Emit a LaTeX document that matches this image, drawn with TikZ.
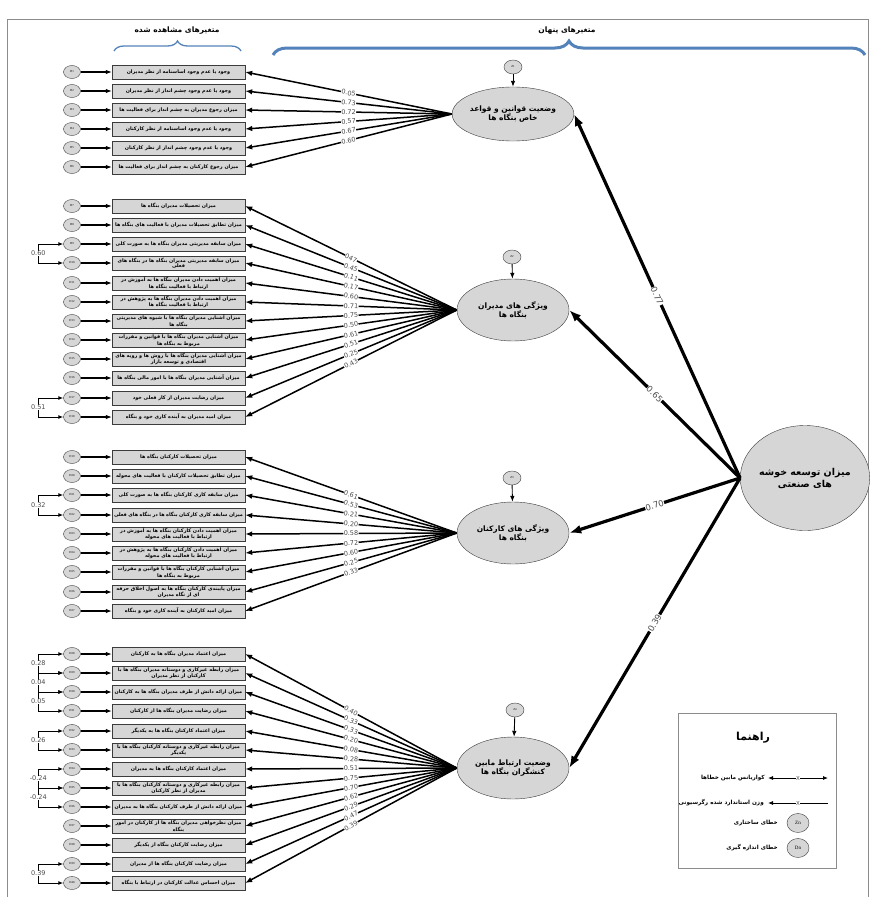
\documentclass[tikz,border=0pt]{standalone}
\usepackage{fontspec}
\setmainfont{DejaVu Sans}
\newfontfamily\farsi[Script=Arabic]{DejaVu Sans}
\newfontfamily\romn{Liberation Serif}
\TeXXeTstate=1
\usetikzlibrary{arrows.meta,positioning,shapes.geometric,decorations.pathreplacing}
\definecolor{semgray}{RGB}{214,214,214}
\definecolor{semedge}{RGB}{60,60,60}
\definecolor{semlab}{RGB}{75,75,75}
\definecolor{semblue}{RGB}{84,130,186}
\definecolor{semframe}{RGB}{140,140,140}
\tikzset{
  obsbox/.style={draw=semedge, fill=semgray, minimum width=133pt, minimum height=14pt,
                 text width=129pt, align=flush center, inner sep=0.6pt,
                 font=\farsi\bfseries\fontsize{4.9}{5.5}\selectfont},
  errc/.style={ellipse, draw=semedge, fill=semgray, minimum width=17pt, minimum height=13pt,
               inner sep=0pt, font=\romn\fontsize{3}{3}\selectfont},
  latent/.style={ellipse, draw=semedge, fill=semgray, minimum width=112pt, minimum height=62pt,
                 inner sep=0pt, align=center, font=\farsi\bfseries\fontsize{7.5}{9.5}\selectfont},
  errarr/.style={-{Latex[length=6pt,width=4.5pt]}, line width=1.1pt},
  load/.style={-{Latex[length=7pt,width=5.5pt]}, line width=1.5pt},
  mainarr/.style={-{Latex[length=12pt,width=9pt]}, line width=3.2pt},
  coef/.style={sloped, pos=0.5, fill=white, inner sep=0.3pt, text=semlab, font=\fontsize{6.5}{6.5}\selectfont},
  bigcoef/.style={coef, font=\fontsize{8.5}{8.5}\selectfont},
  covar/.style={{Latex[length=5pt,width=4pt]}-{Latex[length=5pt,width=4pt]}, line width=1pt},
  covlab/.style={fill=white, inner sep=0.4pt, text=semlab, font=\fontsize{6.5}{6.5}\selectfont},
  hdr/.style={font=\farsi\bfseries\fontsize{7.5}{8}\selectfont},
  leglab/.style={anchor=east, inner sep=0pt, font=\farsi\bfseries\fontsize{5.7}{7}\selectfont},
  xmark/.style={fill=white, inner sep=0.3pt, text=semlab, font=\fontsize{5.5}{5.5}\selectfont},
}
\newcommand{\ptxt}[1]{\beginR #1\endR}
% one observed indicator: box, measurement error, arrow
\newcommand{\obsvar}[3]{%
  \node[obsbox] (b#1) at (178.5,#2) {#3};
  \node[errc] (d#1) at (72,#2) {D#1};
  \draw[errarr] (d#1) -- (b#1);
}

\begin{document}
\begin{tikzpicture}[x=1pt, y=-1pt]
  \useasboundingbox (0,0) rectangle (872,897);
  \draw[semframe, line width=1pt] (7,897) -- (7,19) -- (868,19) -- (868,897);

  % headers
  \node[hdr] (obshdr) at (177,31) {\ptxt{متغیرهای مشاهده شده}};
  \node[hdr] (lathdr) at (567,31) {\ptxt{متغیرهای پنهان}};
  \draw[semblue, line width=1.3pt, decorate, decoration={brace, amplitude=10pt}] (114,51) -- (241,51);
  \draw[semblue, line width=3pt, decorate, decoration={brace, amplitude=14pt}] (273,55) -- (865,55);

  % latent variables
  \node[latent, minimum height=54pt] (lat1) at (513,114) {\ptxt{وضعیت قوانین و قواعد}\\\ptxt{خاص بنگاه ها}};
  \node[latent] (lat2) at (513,310) {\ptxt{ویژگی های مدیران}\\\ptxt{بنگاه ها}};
  \node[latent] (lat3) at (513,533) {\ptxt{ویژگی های کارکنان}\\\ptxt{بنگاه ها}};
  \node[latent] (lat4) at (513,768) {\ptxt{وضعیت ارتباط مابین}\\\ptxt{کنشگران بنگاه ها}};
  \node[latent, minimum width=128pt, minimum height=105pt,
        font=\farsi\bfseries\fontsize{9.5}{12}\selectfont] (main) at (805,478) {\ptxt{میزان توسعه خوشه}\\\ptxt{های صنعتی}};

  \node[errc, minimum width=18pt, minimum height=14pt] (z1) at (513,67) {Z1};
  \node[errc, minimum width=18pt, minimum height=14pt] (z2) at (512,257) {Z2};
  \node[errc, minimum width=18pt, minimum height=14pt] (z3) at (512,478) {Z3};
  \node[errc, minimum width=18pt, minimum height=14pt] (z4) at (515,710) {Z4};
  \draw[errarr, line width=0.9pt] (z1) -- (lat1);
  \draw[errarr, line width=0.9pt] (z2) -- (lat2);
  \draw[errarr, line width=0.9pt] (z3) -- (lat3);
  \draw[errarr, line width=0.9pt] (z4) -- (lat4);

  \draw[mainarr] (main.west) -- node[bigcoef]{0.77} (lat1.east);
  \draw[mainarr] (main.west) -- node[bigcoef]{0.65} (lat2.east);
  \draw[mainarr] (main.west) -- node[bigcoef]{0.70} (lat3.east);
  \draw[mainarr] (main.west) -- node[bigcoef]{0.39} (lat4.east);

  % observed: group 1
  \obsvar{1}{72}{\ptxt{وجود یا عدم وجود اساسنامه از نظر مدیران}}
  \obsvar{2}{91}{\ptxt{وجود یا عدم وجود چشم انداز از نظر مدیران}}
  \obsvar{3}{110}{\ptxt{میزان رجوع مدیران به چشم انداز برای فعالیت ها}}
  \obsvar{4}{129}{\ptxt{وجود یا عدم وجود اساسنامه از نظر کارکنان}}
  \obsvar{5}{148}{\ptxt{وجود یا عدم وجود چشم انداز از نظر کارکنان}}
  \obsvar{6}{167}{\ptxt{میزان رجوع کارکنان به چشم انداز برای فعالیت ها}}

  % observed: group 2
  \obsvar{7}{206}{\ptxt{میزان تحصیلات مدیران بنگاه ها}}
  \obsvar{8}{225}{\ptxt{میزان تطابق تحصیلات مدیران با فعالیت های بنگاه ها}}
  \obsvar{9}{244}{\ptxt{میزان سابقه مدیریتی مدیران بنگاه ها به صورت کلی}}
  \obsvar{10}{263}{\ptxt{میزان سابقه مدیریتی مدیران بنگاه ها در بنگاه های فعلی}}
  \obsvar{11}{283}{\ptxt{میزان اهمیت دادن مدیران بنگاه ها به آموزش در ارتباط با فعالیت بنگاه ها}}
  \obsvar{12}{302}{\ptxt{میزان اهمیت دادن مدیران بنگاه ها به پژوهش در ارتباط با فعالیت بنگاه ها}}
  \obsvar{13}{321}{\ptxt{میزان آشنایی مدیران بنگاه ها با شیوه های مدیریتی بنگاه ها}}
  \obsvar{14}{340}{\ptxt{میزان آشنایی مدیران بنگاه ها با قوانین و مقررات مربوط به بنگاه ها}}
  \obsvar{15}{359}{\ptxt{میزان آشنایی مدیران بنگاه ها با روش ها و رویه های اقتصادی و توسعه بازار}}
  \obsvar{16}{378}{\ptxt{میزان آشنایی مدیران بنگاه ها با امور مالی بنگاه ها}}
  \obsvar{17}{398}{\ptxt{میزان رضایت مدیران از کار فعلی خود}}
  \obsvar{18}{417}{\ptxt{میزان امید مدیران به آینده کاری خود و بنگاه}}

  % observed: group 3
  \obsvar{19}{457}{\ptxt{میزان تحصیلات کارکنان بنگاه ها}}
  \obsvar{20}{476}{\ptxt{میزان تطابق تحصیلات کارکنان با فعالیت های محوله}}
  \obsvar{21}{495}{\ptxt{میزان سابقه کاری کارکنان بنگاه ها به صورت کلی}}
  \obsvar{22}{515}{\ptxt{میزان سابقه کاری کارکنان بنگاه ها در بنگاه های فعلی}}
  \obsvar{23}{534}{\ptxt{میزان اهمیت دادن کارکنان بنگاه ها به آموزش در ارتباط با فعالیت های محوله}}
  \obsvar{24}{553}{\ptxt{میزان اهمیت دادن کارکنان بنگاه ها به پژوهش در ارتباط با فعالیت های محوله}}
  \obsvar{25}{572}{\ptxt{میزان آشنایی کارکنان بنگاه ها با قوانین و مقررات مربوط به بنگاه ها}}
  \obsvar{26}{592}{\ptxt{میزان پایبندی کارکنان بنگاه ها به اصول اخلاق حرفه ای از نگاه مدیران}}
  \obsvar{27}{611}{\ptxt{میزان امید کارکنان به آینده کاری خود و بنگاه}}

  % observed: group 4
  \obsvar{28}{654}{\ptxt{میزان اعتماد مدیران بنگاه ها به کارکنان}}
  \obsvar{29}{673}{\ptxt{میزان رابطه غیرکاری و دوستانه مدیران بنگاه ها با کارکنان از نظر مدیران}}
  \obsvar{30}{692}{\ptxt{میزان ارائه دانش از طرف مدیران بنگاه ها به کارکنان}}
  \obsvar{31}{711}{\ptxt{میزان رضایت مدیران بنگاه ها از کارکنان}}
  \obsvar{32}{731}{\ptxt{میزان اعتماد کارکنان بنگاه ها به یکدیگر}}
  \obsvar{33}{750}{\ptxt{میزان رابطه غیرکاری و دوستانه کارکنان بنگاه ها با یکدیگر}}
  \obsvar{34}{769}{\ptxt{میزان اعتماد کارکنان بنگاه ها به مدیران}}
  \obsvar{35}{788}{\ptxt{میزان رابطه غیرکاری و دوستانه کارکنان بنگاه ها با مدیران از نظر کارکنان}}
  \obsvar{36}{807}{\ptxt{میزان ارائه دانش از طرف کارکنان بنگاه ها به مدیران}}
  \obsvar{37}{826}{\ptxt{میزان نظرخواهی مدیران بنگاه ها از کارکنان در امور بنگاه}}
  \obsvar{38}{845}{\ptxt{میزان رضایت کارکنان بنگاه از یکدیگر}}
  \obsvar{39}{864}{\ptxt{میزان رضایت کارکنان بنگاه ها از مدیران}}
  \obsvar{40}{883}{\ptxt{میزان احساس عدالت کارکنان در ارتباط با بنگاه}}

  % loadings
  \foreach \i/\c in {1/0.05, 2/0.73, 3/0.72, 4/0.57, 5/0.67, 6/0.60}
    \draw[load] (lat1.west) -- node[coef]{\c} (b\i.east);
  \foreach \i/\c in {7/047, 8/0.45, 9/0.11, 10/0.17, 11/0.60, 12/0.71, 13/0.75, 14/0.50,
                     15/0.61, 16/0.51, 17/0.25, 18/0.43}
    \draw[load] (lat2.west) -- node[coef]{\c} (b\i.east);
  \foreach \i/\c in {19/0.61, 20/0.53, 21/0.21, 22/0.20, 23/0.58, 24/0.72, 25/0.60, 26/0.25, 27/0.33}
    \draw[load] (lat3.west) -- node[coef]{\c} (b\i.east);
  \foreach \i/\c in {28/0.40, 29/0.33, 30/0.33, 31/0.20, 32/0.08, 33/0.28, 34/0.51, 35/0.75,
                     36/0.70, 37/0.62, 38/0.29, 39/0.47, 40/0.39}
    \draw[load] (lat4.west) -- node[coef]{\c} (b\i.east);

  % error covariances
  \foreach \a/\b/\c in {9/10/0.60, 17/18/0.51, 21/22/0.32, 28/29/0.28, 29/30/0.04, 30/31/0.05,
                        32/33/0.26, 34/35/-0.24, 35/36/-0.24, 39/40/0.39}
    \draw[covar] (d\a.west) -- ++(-25,0) |- node[pos=0.25, covlab]{\c} (d\b.west);

  % legend
  \node[draw=semframe, line width=0.8pt, minimum width=158pt, minimum height=155pt] (legend) at (757,790.5) {};
  \node[font=\farsi\bfseries\fontsize{11}{12}\selectfont] (legtitle) at (753,738) {\ptxt{راهنما}};
  \node[leglab] (legcov) at (765,778) {\ptxt{کواریانس مابین خطاها}};
  \node[leglab] (legreg) at (764,803) {\ptxt{وزن استاندارد شده رگرسیونی}};
  \node[leglab] (legz) at (778,823) {\ptxt{خطای ساختاری}};
  \node[leglab] (legd) at (778,848) {\ptxt{خطای اندازه گیری}};
  \coordinate (cova) at (768,778);
  \coordinate (covb) at (828,778);
  \coordinate (rega) at (768,803);
  \coordinate (regb) at (828,803);
  \draw[covar, line width=0.8pt] (cova) -- node[xmark]{X} (covb);
  \draw[{Latex[length=5pt,width=4pt]}-, line width=0.8pt] (rega) -- node[xmark]{X} (regb);
  \node[errc, minimum width=22pt, minimum height=19pt, font=\romn\fontsize{5}{5}\selectfont] (legzc) at (798,823) {Zn};
  \node[errc, minimum width=22pt, minimum height=19pt, font=\romn\fontsize{5}{5}\selectfont] (legdc) at (798,848) {Dn};
\end{tikzpicture}
\end{document}
